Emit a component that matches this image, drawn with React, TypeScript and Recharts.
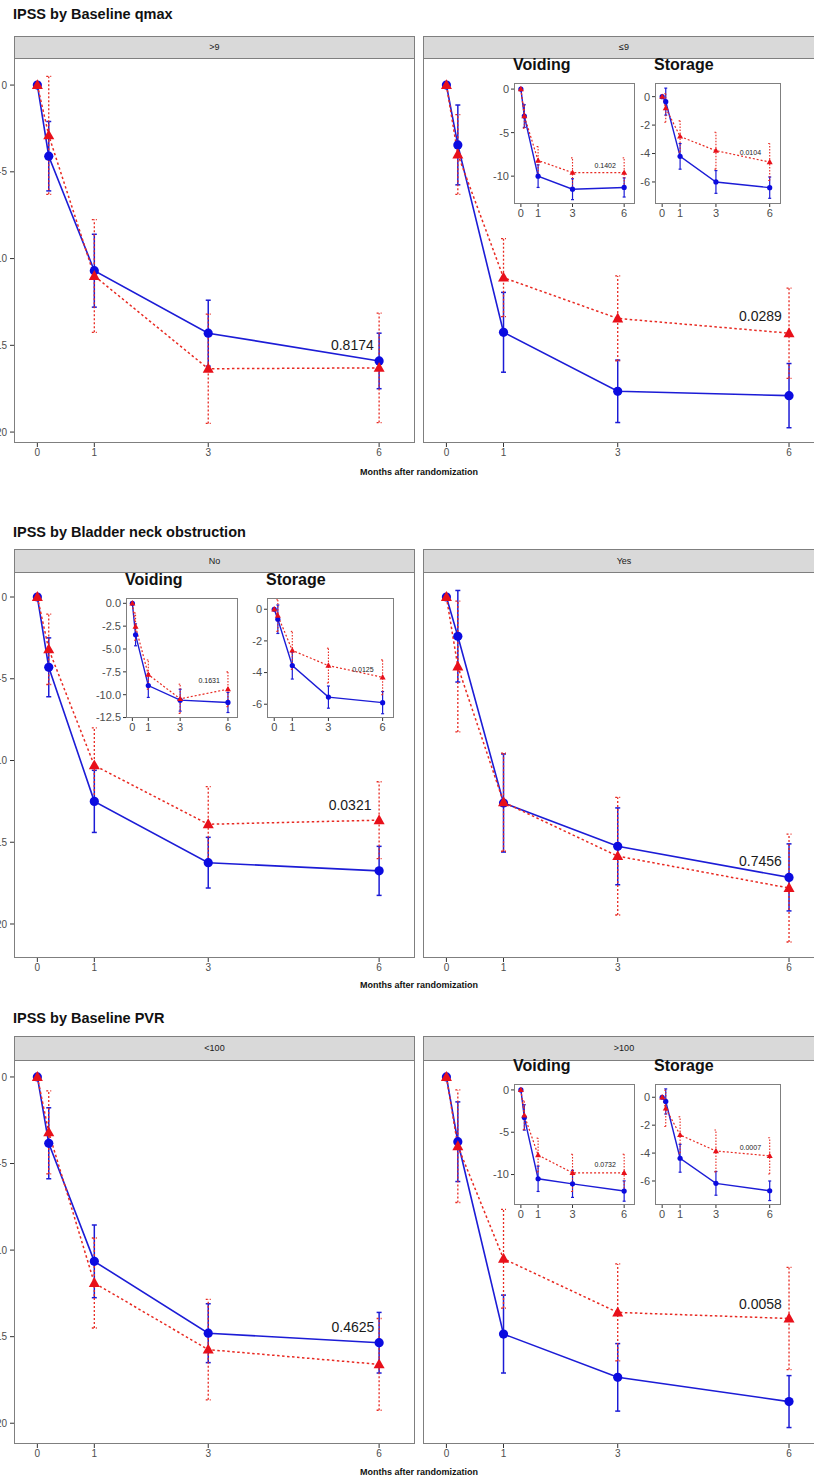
import React from 'react';
import { ComposedChart, Line, XAxis, YAxis, ErrorBar, ReferenceDot } from 'recharts';

// time points (months after randomization); 0.2 is the first-week visit
const months = [0, 0.2, 1, 3, 6];
const monthTicks = [0, 1, 3, 6];
const mainYTicks = [0, -5, -10, -15, -20];

// --- IPSS by Baseline qmax ---
// >9
const qmaxHiBlue = [0, -4.1, -10.7, -14.3, -15.9];
const qmaxHiBlueErr = [0, 2.0, 2.1, 1.9, 1.6];
const qmaxHiRed = [0, -2.9, -11.0, -16.35, -16.3];
const qmaxHiRedErr = [0, 3.4, 3.25, 3.15, 3.15];
// <=9
const qmaxLoBlue = [0, -3.45, -14.25, -17.65, -17.9];
const qmaxLoBlueErr = [0, 2.3, 2.3, 1.8, 1.85];
const qmaxLoRed = [0, -4.0, -11.1, -13.45, -14.3];
const qmaxLoRedErr = [0, 2.3, 2.25, 2.45, 2.6];
// <=9 insets
const qmaxVoidBlue = [0, -3.1, -10.0, -11.5, -11.3];
const qmaxVoidBlueErr = [0, 1.3, 1.3, 1.2, 1.1];
const qmaxVoidRed = [0, -3.1, -8.2, -9.6, -9.6];
const qmaxVoidRedErr = [0, 1.4, 1.6, 1.7, 1.7];
const qmaxStorBlue = [0, -0.35, -4.2, -6.0, -6.4];
const qmaxStorBlueErr = [0, 0.95, 0.9, 0.8, 0.75];
const qmaxStorRed = [0, -0.8, -2.8, -3.8, -4.6];
const qmaxStorRedErr = [0, 1.0, 1.1, 1.3, 1.3];

// --- IPSS by Bladder neck obstruction ---
// No
const bnoNoBlue = [0, -4.3, -12.5, -16.25, -16.75];
const bnoNoBlueErr = [0, 1.8, 1.9, 1.55, 1.5];
const bnoNoRed = [0, -3.2, -10.3, -13.9, -13.65];
const bnoNoRedErr = [0, 2.15, 2.3, 2.3, 2.35];
// Yes
const bnoYesBlue = [0, -2.4, -12.6, -15.25, -17.15];
const bnoYesBlueErr = [0, 2.8, 3.0, 2.35, 2.05];
const bnoYesRed = [0, -4.25, -12.55, -15.85, -17.8];
const bnoYesRedErr = [0, 4.0, 3.0, 3.6, 3.3];
// No insets
const bnoVoidBlue = [0, -3.45, -9.0, -10.6, -10.85];
const bnoVoidBlueErr = [0, 1.2, 1.3, 1.2, 1.1];
const bnoVoidRed = [0, -2.55, -7.8, -10.45, -9.4];
const bnoVoidRedErr = [0, 1.5, 1.6, 1.6, 1.9];
const bnoStorBlue = [0, -0.63, -3.56, -5.55, -5.9];
const bnoStorBlueErr = [0, 0.9, 0.85, 0.7, 0.7];
const bnoStorRed = [0, -0.4, -2.6, -3.56, -4.3];
const bnoStorRedErr = [0, 1.0, 1.2, 1.1, 1.1];

// --- IPSS by Baseline PVR ---
// <100
const pvrLoBlue = [0, -3.83, -10.65, -14.8, -15.35];
const pvrLoBlueErr = [0, 2.05, 2.1, 1.7, 1.75];
const pvrLoRed = [0, -3.2, -11.9, -15.75, -16.6];
const pvrLoRedErr = [0, 2.4, 2.6, 2.9, 2.65];
// >100
const pvrHiBlue = [0, -3.74, -14.85, -17.35, -18.75];
const pvrHiBlueErr = [0, 2.3, 2.25, 1.95, 1.5];
const pvrHiRed = [0, -4.0, -10.5, -13.6, -13.95];
const pvrHiRedErr = [0, 3.25, 2.85, 2.8, 2.95];
// >100 insets
const pvrVoidBlue = [0, -3.25, -10.5, -11.1, -11.95];
const pvrVoidBlueErr = [0, 1.5, 1.5, 1.6, 1.2];
const pvrVoidRed = [0, -3.0, -7.7, -9.8, -9.8];
const pvrVoidRedErr = [0, 1.7, 2.0, 2.2, 2.2];
const pvrStorBlue = [0, -0.3, -4.37, -6.17, -6.7];
const pvrStorBlueErr = [0, 0.9, 1.0, 0.85, 0.7];
const pvrStorRed = [0, -0.8, -2.7, -3.85, -4.2];
const pvrStorRedErr = [0, 1.3, 1.3, 1.5, 1.3];

const FONT = '"Liberation Sans", Arial, sans-serif';
const BLUE = '#1c1cd6';
const BLUE_PT = '#0b0be0';
const RED = '#e82a22';
const RED_PT = '#e8101a';
const BORDER = '#7f7f7f';
const AXIS_TXT = '#4d4d4d';
const X_DOMAIN: [number, number] = [-0.41, 6.63];

function rows(a: number[], aErr: number[], b: number[], bErr: number[]) {
  return months.map((m, i) => ({ m, a: a[i], aErr: aErr[i], b: b[i], bErr: bErr[i] }));
}

const circleDot = (r: number) => (props: any) => {
  const { cx, cy, index } = props;
  return <circle key={'c' + index} cx={cx} cy={cy} r={r} fill={BLUE_PT} stroke="none" />;
};

const triangleDot = (s: number) => (props: any) => {
  const { cx, cy, index } = props;
  const h = s * 0.9;
  return (
    <path
      key={'t' + index}
      d={`M${cx},${cy - h * 0.6} L${cx + s / 2},${cy + h * 0.4} L${cx - s / 2},${cy + h * 0.4} Z`}
      fill={RED_PT}
    />
  );
};

const textShape = (txt: string, size: number) => (props: any) => (
  <text x={props.cx} y={props.cy} textAnchor="middle" dominantBaseline="central" fontSize={size} fill="#1a1a1a" fontFamily={FONT}>
    {txt}
  </text>
);

interface PanelProps {
  box: [number, number, number, number];
  yDomain: [number, number];
  showY: boolean;
  data: any[];
  p: string;
  pAt: [number, number];
}

function Panel({ box, yDomain, showY, data, p, pAt }: PanelProps) {
  const [x0, y0, x1, y1] = box;
  const yw = showY ? 40 : 0;
  const xh = 26;
  return (
    <>
      <div style={{ position: 'absolute', left: x0, top: y0, width: x1 - x0, height: y1 - y0, border: `1px solid ${BORDER}`, boxSizing: 'border-box' }} />
      <div style={{ position: 'absolute', left: x0 - yw, top: y0 }}>
        <ComposedChart width={x1 - x0 + yw} height={y1 - y0 + xh} data={data} margin={{ top: 0, right: 0, bottom: 0, left: 0 }}>
          <XAxis
            dataKey="m"
            type="number"
            domain={X_DOMAIN}
            ticks={monthTicks}
            interval={0}
            allowDataOverflow
            axisLine={false}
            tickSize={4}
            tickMargin={2}
            tickLine={{ stroke: '#333' }}
            tick={{ fontSize: 10, fill: AXIS_TXT, fontFamily: FONT }}
            height={xh}
          />
          <YAxis
            type="number"
            hide={!showY}
            width={yw}
            domain={yDomain}
            ticks={mainYTicks}
            interval={0}
            allowDataOverflow
            axisLine={false}
            tickSize={4}
            tickMargin={3}
            tickLine={{ stroke: '#333' }}
            tick={{ fontSize: 10, fill: AXIS_TXT, fontFamily: FONT }}
          />
          <Line dataKey="a" type="linear" stroke={BLUE} strokeWidth={1.6} dot={circleDot(4.6)} activeDot={false} isAnimationActive={false}>
            <ErrorBar dataKey="aErr" direction="y" width={2.5} stroke={BLUE} strokeWidth={1.5} isAnimationActive={false} />
          </Line>
          <Line dataKey="b" type="linear" stroke={RED} strokeWidth={1.5} strokeDasharray="2.5 2.5" dot={triangleDot(11)} activeDot={false} isAnimationActive={false}>
            <ErrorBar dataKey="bErr" direction="y" width={2.5} stroke={RED} strokeWidth={1.3} strokeDasharray="2 2" isAnimationActive={false} />
          </Line>
          <ReferenceDot x={pAt[0]} y={pAt[1]} r={0} shape={textShape(p, 14)} />
        </ComposedChart>
      </div>
    </>
  );
}

interface InsetProps {
  box: [number, number, number, number];
  title: string;
  yDomain: [number, number];
  yTicks: number[];
  decimals: number;
  data: any[];
  p: string;
  pAt: [number, number];
}

function Inset({ box, title, yDomain, yTicks, decimals, data, p, pAt }: InsetProps) {
  const [x0, y0, x1, y1] = box;
  const yw = 32;
  const xh = 20;
  return (
    <>
      <div style={{ position: 'absolute', left: x0 - 1, top: y0 - 30, fontFamily: FONT, fontWeight: 700, fontSize: 16, lineHeight: '24px', color: '#111' }}>{title}</div>
      <div style={{ position: 'absolute', left: x0, top: y0, width: x1 - x0, height: y1 - y0, border: `1px solid ${BORDER}`, boxSizing: 'border-box', background: '#fff' }} />
      <div style={{ position: 'absolute', left: x0 - yw, top: y0 }}>
        <ComposedChart width={x1 - x0 + yw} height={y1 - y0 + xh} data={data} margin={{ top: 0, right: 0, bottom: 0, left: 0 }}>
          <XAxis
            dataKey="m"
            type="number"
            domain={[-0.4, 6.63]}
            ticks={monthTicks}
            interval={0}
            allowDataOverflow
            axisLine={false}
            tickSize={3}
            tickMargin={2}
            tickLine={{ stroke: '#333' }}
            tick={{ fontSize: 11, fill: AXIS_TXT, fontFamily: FONT }}
            height={xh}
          />
          <YAxis
            type="number"
            width={yw}
            domain={yDomain}
            ticks={yTicks}
            interval={0}
            allowDataOverflow
            axisLine={false}
            tickSize={3}
            tickMargin={2}
            tickLine={{ stroke: '#333' }}
            tickFormatter={(v: number) => (decimals ? v.toFixed(decimals) : String(v))}
            tick={{ fontSize: 11, fill: AXIS_TXT, fontFamily: FONT }}
          />
          <Line dataKey="a" type="linear" stroke={BLUE} strokeWidth={1.4} dot={circleDot(2.6)} activeDot={false} isAnimationActive={false}>
            <ErrorBar dataKey="aErr" direction="y" width={1.5} stroke={BLUE} strokeWidth={1.2} isAnimationActive={false} />
          </Line>
          <Line dataKey="b" type="linear" stroke={RED} strokeWidth={1.2} strokeDasharray="2 2" dot={triangleDot(6)} activeDot={false} isAnimationActive={false}>
            <ErrorBar dataKey="bErr" direction="y" width={1.5} stroke={RED} strokeWidth={1.1} strokeDasharray="1.5 1.5" isAnimationActive={false} />
          </Line>
          <ReferenceDot x={pAt[0]} y={pAt[1]} r={0} shape={textShape(p, 7)} />
        </ComposedChart>
      </div>
    </>
  );
}

function Strip({ x0, x1, top, bottom, label }: { x0: number; x1: number; top: number; bottom: number; label: string }) {
  return (
    <div
      style={{
        position: 'absolute', left: x0, top, width: x1 - x0, height: bottom - top + 1, boxSizing: 'border-box',
        background: '#d9d9d9', border: `1px solid ${BORDER}`, textAlign: 'center', fontFamily: FONT,
        fontSize: 9, lineHeight: `${bottom - top - 1}px`, color: '#1a1a1a',
      }}
    >
      {label}
    </div>
  );
}

function Title({ y, text }: { y: number; text: string }) {
  return (
    <div style={{ position: 'absolute', left: 13, top: y - 10, fontFamily: FONT, fontWeight: 700, fontSize: 14.5, lineHeight: '20px', color: '#111', whiteSpace: 'nowrap' }}>
      {text}
    </div>
  );
}

function XLabel({ y }: { y: number }) {
  return (
    <div style={{ position: 'absolute', left: 319, width: 200, top: y - 7, textAlign: 'center', fontFamily: FONT, fontWeight: 700, fontSize: 9, lineHeight: '14px', color: '#111' }}>
      Months after randomization
    </div>
  );
}

const LX: [number, number] = [14, 415];
const RX: [number, number] = [423, 825];

export default function App() {
  return (
    <div style={{ position: 'absolute', left: 0, top: 0, width: 814, height: 1481, overflow: 'hidden', background: '#fff' }}>
      {/* Row 1 */}
      <Title y={14} text="IPSS by Baseline qmax" />
      <Strip x0={LX[0]} x1={LX[1]} top={36} bottom={58} label=">9" />
      <Strip x0={RX[0]} x1={RX[1]} top={36} bottom={58} label="≤9" />
      <Panel box={[LX[0], 58, LX[1], 443]} yDomain={[-20.63, 1.56]} showY data={rows(qmaxHiBlue, qmaxHiBlueErr, qmaxHiRed, qmaxHiRedErr)} p="0.8174" pAt={[5.53, -15.0]} />
      <Panel box={[RX[0], 58, RX[1], 443]} yDomain={[-20.63, 1.56]} showY={false} data={rows(qmaxLoBlue, qmaxLoBlueErr, qmaxLoRed, qmaxLoRedErr)} p="0.0289" pAt={[5.5, -13.3]} />
      <Inset box={[514, 83, 635, 204]} title="Voiding" yDomain={[-13.2, 0.7]} yTicks={[0, -5, -10]} decimals={0} data={rows(qmaxVoidBlue, qmaxVoidBlueErr, qmaxVoidRed, qmaxVoidRedErr)} p="0.1402" pAt={[4.9, -8.8]} />
      <Inset box={[655, 83, 781, 204]} title="Storage" yDomain={[-7.55, 0.96]} yTicks={[0, -2, -4, -6]} decimals={0} data={rows(qmaxStorBlue, qmaxStorBlueErr, qmaxStorRed, qmaxStorRedErr)} p="0.0104" pAt={[4.92, -3.95]} />
      <XLabel y={472} />

      {/* Row 2 */}
      <Title y={532} text="IPSS by Bladder neck obstruction" />
      <Strip x0={LX[0]} x1={LX[1]} top={549} bottom={572} label="No" />
      <Strip x0={RX[0]} x1={RX[1]} top={549} bottom={572} label="Yes" />
      <Panel box={[LX[0], 572, LX[1], 958]} yDomain={[-22.08, 1.53]} showY data={rows(bnoNoBlue, bnoNoBlueErr, bnoNoRed, bnoNoRedErr)} p="0.0321" pAt={[5.49, -12.7]} />
      <Panel box={[RX[0], 572, RX[1], 958]} yDomain={[-22.08, 1.53]} showY={false} data={rows(bnoYesBlue, bnoYesBlueErr, bnoYesRed, bnoYesRedErr)} p="0.7456" pAt={[5.5, -16.15]} />
      <Inset box={[126, 598, 238, 718]} title="Voiding" yDomain={[-12.55, 0.58]} yTicks={[0, -2.5, -5, -7.5, -10, -12.5]} decimals={1} data={rows(bnoVoidBlue, bnoVoidBlueErr, bnoVoidRed, bnoVoidRedErr)} p="0.1631" pAt={[4.82, -8.4]} />
      <Inset box={[267, 598, 394, 718]} title="Storage" yDomain={[-6.87, 0.71]} yTicks={[0, -2, -4, -6]} decimals={0} data={rows(bnoStorBlue, bnoStorBlueErr, bnoStorRed, bnoStorRedErr)} p="0.0125" pAt={[4.91, -3.8]} />
      <XLabel y={985} />

      {/* Row 3 */}
      <Title y={1018} text="IPSS by Baseline PVR" />
      <Strip x0={LX[0]} x1={LX[1]} top={1036} bottom={1060} label="<100" />
      <Strip x0={RX[0]} x1={RX[1]} top={1036} bottom={1060} label=">100" />
      <Panel box={[LX[0], 1060, LX[1], 1444]} yDomain={[-21.2, 0.98]} showY data={rows(pvrLoBlue, pvrLoBlueErr, pvrLoRed, pvrLoRedErr)} p="0.4625" pAt={[5.54, -14.45]} />
      <Panel box={[RX[0], 1060, RX[1], 1444]} yDomain={[-21.2, 0.98]} showY={false} data={rows(pvrHiBlue, pvrHiBlueErr, pvrHiRed, pvrHiRedErr)} p="0.0058" pAt={[5.5, -13.1]} />
      <Inset box={[514, 1084, 635, 1205]} title="Voiding" yDomain={[-13.6, 0.7]} yTicks={[0, -5, -10]} decimals={0} data={rows(pvrVoidBlue, pvrVoidBlueErr, pvrVoidRed, pvrVoidRedErr)} p="0.0732" pAt={[4.9, -8.8]} />
      <Inset box={[655, 1084, 781, 1205]} title="Storage" yDomain={[-7.72, 0.95]} yTicks={[0, -2, -4, -6]} decimals={0} data={rows(pvrStorBlue, pvrStorBlueErr, pvrStorRed, pvrStorRedErr)} p="0.0007" pAt={[4.92, -3.6]} />
      <XLabel y={1472} />
    </div>
  );
}
